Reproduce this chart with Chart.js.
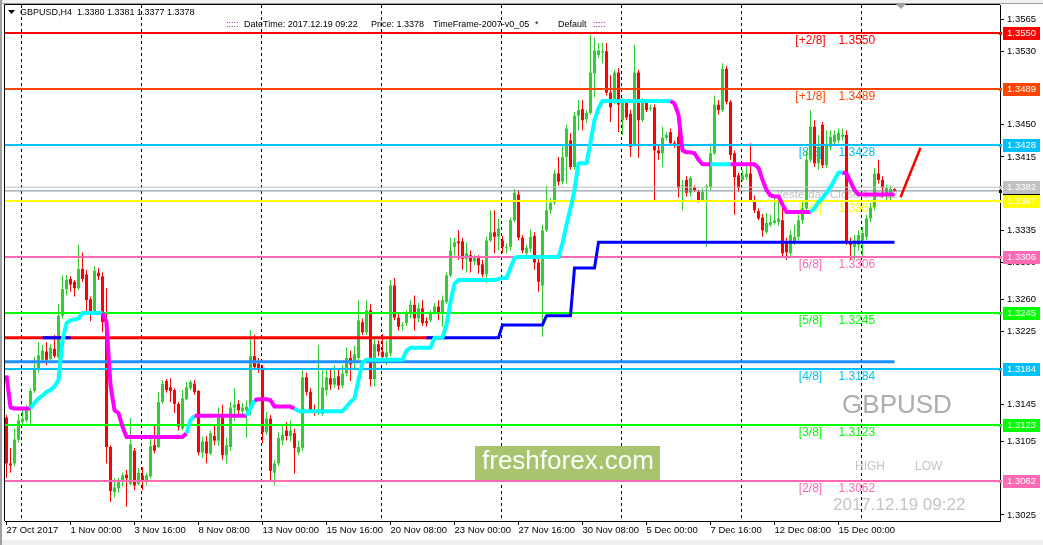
<!DOCTYPE html>
<html>
<head>
<meta charset="utf-8">
<title>GBPUSD,H4</title>
<script src="https://cdn.jsdelivr.net/npm/chart.js"></script>
<style>
  html, body { margin: 0; padding: 0; background: #ffffff; }
  canvas { display: block; }
</style>
</head>
<body>
<canvas id="chart" width="1043" height="545"></canvas>
<script>
// GBPUSD H4 candles, one entry per bar: 27 Oct 2017 08:00 ... 19 Dec 2017 08:00
var opens = [
  1.3131, 1.3081, 1.3081, 1.3107, 1.3126, 1.3128, 1.3141, 1.3160, 1.3184, 1.3194,
  1.3203, 1.3195, 1.3206, 1.3197, 1.3242, 1.3271, 1.3282, 1.3279, 1.3272, 1.3293,
  1.3287, 1.3260, 1.3247, 1.3289, 1.3285, 1.3235, 1.3099, 1.3050, 1.3054, 1.3061,
  1.3069, 1.3059, 1.3095, 1.3059, 1.3068, 1.3061, 1.3067, 1.3101, 1.3099, 1.3148,
  1.3171, 1.3164, 1.3161, 1.3146, 1.3119, 1.3151, 1.3163, 1.3168, 1.3160, 1.3093,
  1.3105, 1.3092, 1.3111, 1.3106, 1.3131, 1.3090, 1.3099, 1.3142, 1.3146, 1.3138,
  1.3139, 1.3139, 1.3198, 1.3190, 1.3183, 1.3115, 1.3130, 1.3071, 1.3081, 1.3106,
  1.3117, 1.3111, 1.3114, 1.3093, 1.3098, 1.3175, 1.3159, 1.3139, 1.3136, 1.3135,
  1.3161, 1.3174, 1.3167, 1.3176, 1.3166, 1.3179, 1.3196, 1.3191, 1.3196, 1.3235,
  1.3224, 1.3248, 1.3173, 1.3211, 1.3203, 1.3197, 1.3201, 1.3275, 1.3240, 1.3231,
  1.3234, 1.3245, 1.3254, 1.3239, 1.3250, 1.3236, 1.3237, 1.3245, 1.3252, 1.3246,
  1.3257, 1.3286, 1.3317, 1.3323, 1.3323, 1.3304, 1.3308, 1.3301, 1.3305, 1.3298,
  1.3287, 1.3324, 1.3333, 1.3328, 1.3324, 1.3316, 1.3317, 1.3346, 1.3374, 1.3327,
  1.3310, 1.3315, 1.3329, 1.3300, 1.3275, 1.3335, 1.3357, 1.3365, 1.3397, 1.3388,
  1.3415, 1.3433, 1.3404, 1.3460, 1.3467, 1.3456, 1.3463, 1.3506, 1.3526, 1.3529,
  1.3530, 1.3485, 1.3475, 1.3507, 1.3455, 1.3474, 1.3462, 1.3428, 1.3507, 1.3455,
  1.3475, 1.3467, 1.3469, 1.3422, 1.3419, 1.3436, 1.3442, 1.3430, 1.3437, 1.3383,
  1.3390, 1.3376, 1.3382, 1.3377, 1.3368, 1.3382, 1.3382, 1.3419, 1.3472, 1.3466,
  1.3511, 1.3475, 1.3419, 1.3395, 1.3390, 1.3393, 1.3397, 1.3368, 1.3356, 1.3349,
  1.3333, 1.3341, 1.3343, 1.3344, 1.3346, 1.3322, 1.3310, 1.3322, 1.3328, 1.3346,
  1.3359, 1.3412, 1.3448, 1.3408, 1.3450, 1.3406, 1.3426, 1.3431, 1.3433, 1.3437,
  1.3439, 1.3322, 1.3317, 1.3319, 1.3324, 1.3328, 1.3348, 1.3360, 1.3397, 1.3390,
  1.3374, 1.3372, 1.3380
];
var highs = [
  1.3134, 1.3098, 1.3119, 1.3135, 1.3141, 1.3145, 1.3163, 1.3197, 1.3213, 1.3210,
  1.3213, 1.3211, 1.3221, 1.3255, 1.3286, 1.3286, 1.3285, 1.3281, 1.3319, 1.3311,
  1.3292, 1.3263, 1.3296, 1.3294, 1.3289, 1.3272, 1.3101, 1.3065, 1.3065, 1.3071,
  1.3074, 1.3131, 1.3098, 1.3076, 1.3077, 1.3071, 1.3110, 1.3124, 1.3159, 1.3172,
  1.3173, 1.3174, 1.3163, 1.3148, 1.3161, 1.3170, 1.3172, 1.3172, 1.3161, 1.3110,
  1.3111, 1.3117, 1.3122, 1.3142, 1.3145, 1.3109, 1.3148, 1.3163, 1.3150, 1.3147,
  1.3150, 1.3226, 1.3221, 1.3196, 1.3188, 1.3137, 1.3134, 1.3085, 1.3115, 1.3123,
  1.3126, 1.3128, 1.3119, 1.3106, 1.3183, 1.3180, 1.3163, 1.3145, 1.3210, 1.3183,
  1.3185, 1.3185, 1.3188, 1.3183, 1.3188, 1.3207, 1.3204, 1.3209, 1.3259, 1.3239,
  1.3259, 1.3255, 1.3218, 1.3215, 1.3222, 1.3215, 1.3281, 1.3283, 1.3246, 1.3235,
  1.3248, 1.3259, 1.3264, 1.3256, 1.3259, 1.3240, 1.3248, 1.3256, 1.3259, 1.3264,
  1.3289, 1.3327, 1.3327, 1.3335, 1.3327, 1.3322, 1.3313, 1.3308, 1.3308, 1.3303,
  1.3328, 1.3357, 1.3357, 1.3348, 1.3329, 1.3321, 1.3349, 1.3380, 1.3379, 1.3330,
  1.3319, 1.3336, 1.3333, 1.3305, 1.3341, 1.3384, 1.3370, 1.3401, 1.3415, 1.3428,
  1.3450, 1.3441, 1.3464, 1.3477, 1.3477, 1.3466, 1.3548, 1.3545, 1.3539, 1.3539,
  1.3539, 1.3504, 1.3510, 1.3512, 1.3479, 1.3477, 1.3466, 1.3537, 1.3510, 1.3479,
  1.3477, 1.3472, 1.3472, 1.3428, 1.3448, 1.3442, 1.3446, 1.3433, 1.3448, 1.3390,
  1.3394, 1.3394, 1.3384, 1.3379, 1.3381, 1.3385, 1.3430, 1.3482, 1.3477, 1.3517,
  1.3514, 1.3477, 1.3422, 1.3398, 1.3401, 1.3406, 1.3430, 1.3373, 1.3359, 1.3353,
  1.3354, 1.3352, 1.3373, 1.3368, 1.3360, 1.3327, 1.3335, 1.3341, 1.3352, 1.3368,
  1.3422, 1.3466, 1.3455, 1.3439, 1.3453, 1.3444, 1.3444, 1.3444, 1.3446, 1.3446,
  1.3444, 1.3327, 1.3330, 1.3335, 1.3339, 1.3352, 1.3365, 1.3403, 1.3412, 1.3394,
  1.3385, 1.3384, 1.3381
];
var lows = [
  1.3065, 1.3071, 1.3078, 1.3104, 1.3123, 1.3126, 1.3123, 1.3158, 1.3180, 1.3191,
  1.3188, 1.3192, 1.3196, 1.3195, 1.3239, 1.3264, 1.3268, 1.3263, 1.3270, 1.3279,
  1.3245, 1.3236, 1.3245, 1.3281, 1.3224, 1.3081, 1.3039, 1.3044, 1.3049, 1.3056,
  1.3034, 1.3057, 1.3052, 1.3057, 1.3052, 1.3058, 1.3065, 1.3092, 1.3098, 1.3146,
  1.3158, 1.3148, 1.3136, 1.3117, 1.3117, 1.3150, 1.3161, 1.3156, 1.3090, 1.3087,
  1.3081, 1.3090, 1.3101, 1.3100, 1.3085, 1.3081, 1.3095, 1.3128, 1.3134, 1.3135,
  1.3109, 1.3134, 1.3183, 1.3180, 1.3103, 1.3112, 1.3061, 1.3058, 1.3078, 1.3101,
  1.3106, 1.3105, 1.3070, 1.3090, 1.3095, 1.3155, 1.3136, 1.3133, 1.3134, 1.3133,
  1.3155, 1.3161, 1.3163, 1.3161, 1.3163, 1.3176, 1.3171, 1.3185, 1.3191, 1.3221,
  1.3221, 1.3165, 1.3165, 1.3198, 1.3194, 1.3188, 1.3198, 1.3237, 1.3226, 1.3226,
  1.3231, 1.3239, 1.3226, 1.3235, 1.3231, 1.3230, 1.3235, 1.3243, 1.3237, 1.3230,
  1.3255, 1.3284, 1.3308, 1.3303, 1.3292, 1.3289, 1.3289, 1.3297, 1.3288, 1.3284,
  1.3277, 1.3322, 1.3310, 1.3313, 1.3310, 1.3310, 1.3313, 1.3344, 1.3324, 1.3310,
  1.3308, 1.3311, 1.3292, 1.3268, 1.3219, 1.3333, 1.3353, 1.3363, 1.3384, 1.3385,
  1.3386, 1.3401, 1.3401, 1.3444, 1.3444, 1.3452, 1.3461, 1.3480, 1.3523, 1.3517,
  1.3482, 1.3453, 1.3472, 1.3442, 1.3439, 1.3455, 1.3415, 1.3426, 1.3414, 1.3453,
  1.3464, 1.3465, 1.3368, 1.3412, 1.3404, 1.3433, 1.3428, 1.3425, 1.3371, 1.3357,
  1.3372, 1.3372, 1.3377, 1.3365, 1.3366, 1.3317, 1.3379, 1.3417, 1.3461, 1.3464,
  1.3472, 1.3412, 1.3352, 1.3377, 1.3388, 1.3390, 1.3366, 1.3354, 1.3346, 1.3328,
  1.3331, 1.3339, 1.3341, 1.3340, 1.3307, 1.3303, 1.3305, 1.3319, 1.3324, 1.3342,
  1.3355, 1.3409, 1.3404, 1.3401, 1.3403, 1.3403, 1.3422, 1.3428, 1.3430, 1.3433,
  1.3319, 1.3303, 1.3303, 1.3313, 1.3305, 1.3324, 1.3344, 1.3357, 1.3386, 1.3371,
  1.3368, 1.3368, 1.3377
];
var closes = [
  1.3081, 1.3079, 1.3107, 1.3128, 1.3130, 1.3141, 1.3160, 1.3184, 1.3199, 1.3204,
  1.3194, 1.3207, 1.3198, 1.3242, 1.3271, 1.3281, 1.3276, 1.3272, 1.3293, 1.3282,
  1.3259, 1.3247, 1.3291, 1.3285, 1.3235, 1.3099, 1.3051, 1.3055, 1.3061, 1.3068,
  1.3065, 1.3102, 1.3057, 1.3071, 1.3063, 1.3068, 1.3100, 1.3095, 1.3148, 1.3168,
  1.3161, 1.3160, 1.3146, 1.3121, 1.3152, 1.3164, 1.3170, 1.3159, 1.3093, 1.3105,
  1.3092, 1.3114, 1.3106, 1.3131, 1.3090, 1.3101, 1.3142, 1.3145, 1.3139, 1.3142,
  1.3143, 1.3198, 1.3186, 1.3185, 1.3115, 1.3130, 1.3073, 1.3081, 1.3109, 1.3112,
  1.3111, 1.3117, 1.3098, 1.3099, 1.3175, 1.3159, 1.3138, 1.3136, 1.3139, 1.3164,
  1.3175, 1.3167, 1.3174, 1.3166, 1.3179, 1.3196, 1.3189, 1.3200, 1.3237, 1.3224,
  1.3248, 1.3173, 1.3211, 1.3203, 1.3197, 1.3202, 1.3275, 1.3240, 1.3230, 1.3232,
  1.3245, 1.3254, 1.3239, 1.3250, 1.3234, 1.3234, 1.3245, 1.3252, 1.3246, 1.3259,
  1.3286, 1.3313, 1.3322, 1.3321, 1.3304, 1.3310, 1.3301, 1.3305, 1.3297, 1.3287,
  1.3324, 1.3333, 1.3328, 1.3337, 1.3317, 1.3317, 1.3346, 1.3376, 1.3327, 1.3313,
  1.3316, 1.3328, 1.3300, 1.3279, 1.3335, 1.3357, 1.3365, 1.3397, 1.3388, 1.3415,
  1.3446, 1.3404, 1.3460, 1.3466, 1.3455, 1.3463, 1.3507, 1.3531, 1.3531, 1.3530,
  1.3485, 1.3469, 1.3507, 1.3472, 1.3475, 1.3458, 1.3426, 1.3507, 1.3455, 1.3475,
  1.3466, 1.3468, 1.3422, 1.3419, 1.3436, 1.3439, 1.3430, 1.3428, 1.3381, 1.3384,
  1.3376, 1.3392, 1.3379, 1.3368, 1.3377, 1.3383, 1.3419, 1.3472, 1.3466, 1.3511,
  1.3475, 1.3417, 1.3393, 1.3381, 1.3395, 1.3397, 1.3368, 1.3357, 1.3348, 1.3335,
  1.3343, 1.3344, 1.3346, 1.3348, 1.3310, 1.3311, 1.3330, 1.3328, 1.3346, 1.3359,
  1.3412, 1.3448, 1.3408, 1.3426, 1.3406, 1.3428, 1.3437, 1.3439, 1.3441, 1.3439,
  1.3322, 1.3319, 1.3324, 1.3330, 1.3332, 1.3348, 1.3360, 1.3397, 1.3390, 1.3381,
  1.3381, 1.3380, 1.3378
];

// trend indicator, one value per bar; colour flips at the listed bars
var trendLine = [
  1.3177, 1.3142, 1.3141, 1.3141, 1.3141, 1.3141, 1.3141, 1.3147, 1.3152, 1.3155,
  1.3159, 1.3161, 1.3165, 1.3172, 1.3215, 1.3234, 1.3237, 1.3238, 1.3239, 1.3245,
  1.3245, 1.3245, 1.3245, 1.3245, 1.3245, 1.3235, 1.3166, 1.3139, 1.3136, 1.3121,
  1.3110, 1.3110, 1.3110, 1.3110, 1.3110, 1.3110, 1.3110, 1.3110, 1.3110, 1.3110,
  1.3110, 1.3110, 1.3110, 1.3110, 1.3110, 1.3114, 1.3128, 1.3133, 1.3133, 1.3133,
  1.3133, 1.3133, 1.3133, 1.3133, 1.3133, 1.3133, 1.3133, 1.3133, 1.3133, 1.3133,
  1.3133, 1.3141, 1.3150, 1.3151, 1.3151, 1.3151, 1.3150, 1.3143, 1.3143, 1.3143,
  1.3143, 1.3143, 1.3141, 1.3138, 1.3138, 1.3138, 1.3138, 1.3138, 1.3138, 1.3138,
  1.3138, 1.3138, 1.3138, 1.3138, 1.3138, 1.3143, 1.3148, 1.3152, 1.3172, 1.3191,
  1.3194, 1.3194, 1.3194, 1.3194, 1.3194, 1.3194, 1.3194, 1.3194, 1.3194, 1.3194,
  1.3204, 1.3207, 1.3207, 1.3207, 1.3207, 1.3207, 1.3207, 1.3218, 1.3218, 1.3218,
  1.3232, 1.3257, 1.3277, 1.3281, 1.3281, 1.3281, 1.3281, 1.3281, 1.3281, 1.3281,
  1.3281, 1.3281, 1.3281, 1.3282, 1.3283, 1.3283, 1.3294, 1.3305, 1.3306, 1.3306,
  1.3306, 1.3306, 1.3306, 1.3306, 1.3306, 1.3306, 1.3306, 1.3306, 1.3306, 1.3321,
  1.3341, 1.3359, 1.3379, 1.3408, 1.3408, 1.3408, 1.3431, 1.3455, 1.3468, 1.3476,
  1.3476, 1.3476, 1.3476, 1.3476, 1.3476, 1.3476, 1.3476, 1.3476, 1.3476, 1.3476,
  1.3476, 1.3476, 1.3476, 1.3476, 1.3476, 1.3476, 1.3476, 1.3473, 1.3461, 1.3422,
  1.3420, 1.3420, 1.3419, 1.3412, 1.3407, 1.3407, 1.3407, 1.3407, 1.3407, 1.3407,
  1.3407, 1.3407, 1.3407, 1.3407, 1.3407, 1.3407, 1.3407, 1.3407, 1.3403, 1.3390,
  1.3379, 1.3373, 1.3372, 1.3372, 1.3363, 1.3355, 1.3355, 1.3355, 1.3355, 1.3355,
  1.3355, 1.3355, 1.3359, 1.3366, 1.3370, 1.3376, 1.3382, 1.3390, 1.3398, 1.3398,
  1.3397, 1.3388, 1.3379, 1.3374, 1.3374, 1.3374, 1.3374, 1.3374, 1.3374, 1.3374,
  1.3374, 1.3374, 1.3374
];
var trendTurnBars = [0, 6, 24, 45, 47, 60, 62, 72, 166, 176, 181, 201, 209];
var trendTurnUp = [false, true, false, true, false, true, false, true, false, true, false, true, false];

// stepped support line (bar ranges and level)
var supportFrom = [9, 105, 124, 135, 142, 148];
var supportTo = [16, 123, 134, 141, 147, 222];
var supportLevel = [1.3218, 1.3218, 1.3232, 1.3242, 1.3294, 1.3322];

// Murrey math levels
var murreyNames = ['[+2/8]', '[+1/8]', '[8/8]', '[7/8]', '[6/8]', '[5/8]', '[4/8]', '[3/8]', '[2/8]'];
var murreyLevels = [1.3550, 1.3489, 1.3428, 1.3367, 1.3306, 1.3245, 1.3184, 1.3123, 1.3062];
var murreyColors = ['#FF0000', '#FF4500', '#00BFFF', '#FFFF00', '#FF69B4', '#00FF00', '#00BFFF', '#00FF00', '#FF69B4'];

// thick horizontal objects
var thickLevels = [1.3218, 1.3192];
var thickColors = ['#FF0000', '#1E90FF'];
var thickEndBars = [110, 222];

var yesterdayClose = 1.3382;
var bidPrice = 1.3378;

// hand drawn trend line
var arrowBars = [223.5, 228.5];
var arrowPrices = [1.3371, 1.3425];

var xTickBars = [0, 16, 32, 48, 64, 80, 96, 112, 128, 144, 160, 176, 192, 208];
var xTickLabels = ['27 Oct 2017', '1 Nov 00:00', '3 Nov 16:00', '8 Nov 08:00', '13 Nov 00:00', '15 Nov 16:00',
  '20 Nov 08:00', '23 Nov 00:00', '27 Nov 16:00', '30 Nov 08:00', '5 Dec 00:00', '7 Dec 16:00', '12 Dec 08:00', '15 Dec 00:00'];
var weekStartBars = [4, 34, 64, 94, 124, 154, 184, 214];
var yTickValues = [1.3565, 1.3530, 1.3450, 1.3415, 1.3335, 1.3300, 1.3260, 1.3225, 1.3145, 1.3105, 1.3025];

var X_MIN = -0.375, X_MAX = 248.375;
var Y_MAX = 1.35805, Y_MIN = 1.30184;
var UP = '#32CD32', DOWN = '#FF0000', CYAN = '#00FFFF', MAGENTA = '#FF00FF';
var FONT = '"Liberation Sans", Arial, sans-serif';
var AXIS_FONT = { family: FONT, size: 9.5 };

function trendUp(i) {
  var up = trendTurnUp[0];
  for (var k = 0; k < trendTurnBars.length; k++) {
    if (trendTurnBars[k] <= i) up = trendTurnUp[k];
  }
  return up;
}

var candleColors = opens.map(function (o, i) { return closes[i] >= o ? UP : DOWN; });

function hline(value, color, width, from, to, order) {
  return {
    type: 'line', data: [{ x: from, y: value }, { x: to, y: value }],
    borderColor: color, borderWidth: width, pointRadius: 0, fill: false, order: order
  };
}

var supportData = [];
supportFrom.forEach(function (f, k) {
  if (k > 0 && f > supportTo[k - 1] + 1) supportData.push({ x: supportTo[k - 1] + 1, y: null });
  for (var i = f; i <= supportTo[k]; i++) supportData.push({ x: i, y: supportLevel[k] });
});

var datasets = [];
datasets.push({
  type: 'line', data: arrowBars.map(function (b, i) { return { x: b, y: arrowPrices[i] }; }),
  borderColor: '#FF0000', borderWidth: 2.5, pointRadius: 0, order: 0
});
datasets.push({
  type: 'line', data: trendLine.map(function (v, i) { return { x: i, y: v }; }),
  borderColor: MAGENTA, borderWidth: 4, pointRadius: 0, borderJoinStyle: 'round', order: 0,
  segment: { borderColor: function (c) { return trendUp(c.p0DataIndex) ? CYAN : MAGENTA; } }
});
datasets.push({
  type: 'line', data: supportData, borderColor: '#0000FF', borderWidth: 3,
  pointRadius: 0, spanGaps: false, order: 1
});
thickLevels.forEach(function (v, k) { datasets.push(hline(v, thickColors[k], 3, X_MIN, thickEndBars[k], 2)); });
murreyLevels.forEach(function (v, k) { datasets.push(hline(v, murreyColors[k], 2, X_MIN, X_MAX, 3)); });
datasets.push(hline(yesterdayClose, '#C0C0C0', 1, X_MIN, X_MAX, 4));
datasets.push(hline(bidPrice, '#778899', 1, X_MIN, X_MAX, 4));
datasets.push({
  type: 'bar', data: opens.map(function (o, i) { return { x: i, y: [o, closes[i]] }; }),
  backgroundColor: candleColors, barThickness: 3, minBarLength: 1, grouped: false,
  inflateAmount: 0, borderWidth: 0, order: 10
});
datasets.push({
  type: 'bar', data: opens.map(function (o, i) { return { x: i, y: [lows[i], highs[i]] }; }),
  backgroundColor: candleColors, barThickness: 1, grouped: false,
  inflateAmount: 0, borderWidth: 0, order: 11
});

var overlay = {
  id: 'overlay',
  beforeDatasetsDraw: function (chart) {
    var ctx = chart.ctx, a = chart.chartArea, xs = chart.scales.x, ys = chart.scales.y;
    ctx.save();
    ctx.beginPath();
    ctx.rect(a.left, a.top, a.right - a.left, a.bottom - a.top);
    ctx.clip();

    // week separators
    ctx.strokeStyle = '#000000';
    ctx.lineWidth = 1;
    ctx.setLineDash([3, 3]);
    weekStartBars.forEach(function (b) {
      var px = Math.floor(xs.getPixelForValue(b)) - 0.5;
      ctx.beginPath();
      ctx.moveTo(px, a.top);
      ctx.lineTo(px, a.bottom);
      ctx.stroke();
    });
    ctx.setLineDash([]);

    // watermark
    ctx.fillStyle = '#A8C46E';
    ctx.fillRect(475, 446, 185, 34);
    ctx.fillStyle = '#FFFFFF';
    ctx.font = '26px ' + FONT;
    ctx.textBaseline = 'middle';
    ctx.textAlign = 'center';
    ctx.fillText('freshforex.com', 568, 462);

    ctx.fillStyle = '#ADADAD';
    ctx.font = '26px ' + FONT;
    ctx.fillText('GBPUSD', 897, 406);
    ctx.fillStyle = '#C4C4C4';
    ctx.font = '12px ' + FONT;
    ctx.textAlign = 'left';
    ctx.fillText('HIGH', 855, 467);
    ctx.fillText('LOW', 915, 467);
    ctx.font = '17px ' + FONT;
    ctx.fillText('2017.12.19 09:22', 833, 505);

    // level captions
    ctx.font = '12px ' + FONT;
    murreyLevels.forEach(function (v, k) {
      var py = ys.getPixelForValue(v) + 8;
      ctx.fillStyle = murreyColors[k];
      ctx.textAlign = 'center';
      ctx.fillText(murreyNames[k], xs.getPixelForValue(201), py);
      ctx.textAlign = 'left';
      ctx.fillText(v.toFixed(4), xs.getPixelForValue(208), py);
    });
    ctx.fillStyle = '#C0C0C0';
    ctx.font = '11.5px ' + FONT;
    ctx.textAlign = 'center';
    ctx.fillText('Yesterday Close ' + yesterdayClose.toFixed(4), xs.getPixelForValue(207.6), ys.getPixelForValue(yesterdayClose) + 8);
    ctx.restore();
  },
  afterDraw: function (chart) {
    var ctx = chart.ctx, a = chart.chartArea, ys = chart.scales.y;
    ctx.save();
    // frame
    ctx.fillStyle = '#F0F0F0';
    ctx.fillRect(0, 0, 1043, 3);
    ctx.fillRect(0, 540, 1043, 5);
    ctx.fillStyle = '#A0A0A0';
    ctx.fillRect(0, 0, 2, 545);
    ctx.fillRect(0, 3, 1043, 1);
    ctx.strokeStyle = '#000000';
    ctx.lineWidth = 1;
    ctx.beginPath();
    ctx.moveTo(a.left - 0.5, a.bottom);
    ctx.lineTo(a.left - 0.5, a.top - 0.5);
    ctx.lineTo(a.right, a.top - 0.5);
    ctx.stroke();

    // price tags on the axis
    var tags = [[bidPrice, '#000000'], [yesterdayClose, '#C0C0C0']];
    murreyLevels.forEach(function (v, k) { tags.push([v, murreyColors[k]]); });
    ctx.font = '9.5px ' + FONT;
    ctx.textBaseline = 'middle';
    ctx.textAlign = 'left';
    tags.forEach(function (t) {
      var py = Math.round(ys.getPixelForValue(t[0]));
      ctx.fillStyle = t[1];
      ctx.fillRect(a.right + 3, py - 6, 37, 13);
      ctx.fillRect(a.right - 1, py - 1, 3, 3);
      ctx.fillStyle = '#FFFFFF';
      ctx.fillText(t[0].toFixed(4), a.right + 7, py + 0.5);
    });

    // header
    ctx.fillStyle = '#000000';
    ctx.beginPath();
    ctx.moveTo(8, 10); ctx.lineTo(15, 10); ctx.lineTo(11.5, 14); ctx.closePath();
    ctx.fill();
    ctx.fillStyle = '#A0A0A0';
    ctx.beginPath();
    ctx.moveTo(896, 4); ctx.lineTo(906, 4); ctx.lineTo(901, 9); ctx.closePath();
    ctx.fill();
    ctx.fillStyle = '#000000';
    ctx.font = '9px ' + FONT;
    ctx.fillText('GBPUSD,H4  1.3380 1.3381 1.3377 1.3378', 20, 12.5);
    ctx.fillStyle = '#800080';
    ctx.fillText(':::::', 226, 24.5);
    ctx.fillText(':::::', 593, 24.5);
    ctx.fillStyle = '#000000';
    ctx.fillText('DateTime: 2017.12.19 09:22', 244, 24.5);
    ctx.fillText('Price: 1.3378', 371, 24.5);
    ctx.fillText('TimeFrame-2007-v0_05', 433, 24.5);
    ctx.fillText('*', 535, 24.5);
    ctx.fillText('Default', 558, 24.5);
    ctx.restore();
  }
};

new Chart(document.getElementById('chart').getContext('2d'), {
  type: 'bar',
  data: { datasets: datasets },
  options: {
    responsive: false,
    animation: false,
    devicePixelRatio: 1,
    layout: { padding: { left: 5, top: 5, right: 0, bottom: 0 }, autoPadding: false },
    plugins: { legend: { display: false }, tooltip: { enabled: false } },
    scales: {
      x: {
        type: 'linear', min: X_MIN, max: X_MAX, offset: false,
        grid: { display: true, drawOnChartArea: false, drawTicks: true, tickLength: 4, color: '#000000', offset: false },
        border: { display: true, color: '#000000' },
        ticks: {
          autoSkip: false, maxRotation: 0, align: 'start', padding: 0, color: '#000000', font: AXIS_FONT,
          callback: function (v, i) { return xTickLabels[i]; }
        },
        afterBuildTicks: function (s) { s.ticks = xTickBars.map(function (b) { return { value: b }; }); },
        afterFit: function (s) { s.height = 24; s.paddingLeft = 0; s.paddingRight = 0; }
      },
      y: {
        type: 'linear', position: 'right', min: Y_MIN, max: Y_MAX,
        grid: { display: true, drawOnChartArea: false, drawTicks: true, tickLength: 4, color: '#000000' },
        border: { display: true, color: '#000000' },
        ticks: {
          autoSkip: false, padding: 3, color: '#000000', font: AXIS_FONT,
          callback: function (v) { return v.toFixed(4); }
        },
        afterBuildTicks: function (s) { s.ticks = yTickValues.map(function (v) { return { value: v }; }); },
        afterFit: function (s) { s.width = 43; s.paddingTop = 0; s.paddingBottom = 0; }
      }
    }
  },
  plugins: [overlay]
});
</script>
</body>
</html>
